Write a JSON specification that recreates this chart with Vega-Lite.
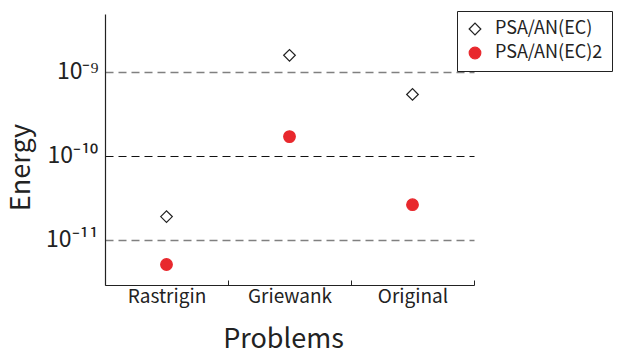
{
  "$schema": "https://vega.github.io/schema/vega-lite/v6.json",
  "autosize": {"type": "none"},
  "width": 369,
  "height": 271,
  "padding": {"left": 105, "top": 14, "right": 150, "bottom": 72},
  "background": "white",
  "config": {
    "view": {"stroke": null},
    "font": "Noto Sans CJK JP",
    "axis": {"labelColor": "#222", "titleColor": "#222", "domainColor": "#222", "tickColor": "#222", "labelFont": "Noto Sans CJK JP", "titleFont": "Noto Sans CJK JP", "titleFontWeight": "normal"},
    "legend": {"labelFont": "Noto Sans CJK JP"}
  },
  "data": {
    "values": [
      {"problem": "Rastrigin", "method": "PSA/AN(EC)", "energy": 1.9e-11},
      {"problem": "Rastrigin", "method": "PSA/AN(EC)2", "energy": 5.1e-12},
      {"problem": "Griewank", "method": "PSA/AN(EC)", "energy": 1.58e-9},
      {"problem": "Griewank", "method": "PSA/AN(EC)2", "energy": 1.7e-10},
      {"problem": "Original", "method": "PSA/AN(EC)", "energy": 5.4e-10},
      {"problem": "Original", "method": "PSA/AN(EC)2", "energy": 2.63e-11}
    ]
  },
  "mark": {"type": "point", "filled": true, "strokeWidth": 1.2, "opacity": 1, "size": 135},
  "encoding": {
    "x": {
      "field": "problem",
      "type": "nominal",
      "sort": ["Rastrigin", "Griewank", "Original"],
      "scale": {"paddingInner": 0, "paddingOuter": 0},
      "axis": {
        "title": "Problems",
        "titleFontSize": 27,
        "titlePadding": 20,
        "titleX": 178,
        "labelAngle": 0,
        "labelFontSize": 19,
        "labelPadding": 7,
        "tickBand": "extent",
        "tickSize": -5,
        "domainWidth": 1.2,
        "grid": false
      }
    },
    "y": {
      "field": "energy",
      "type": "quantitative",
      "scale": {"type": "log", "domain": [2.91e-12, 4.9e-9], "nice": false},
      "axis": {
        "title": "Energy",
        "titleFontSize": 27,
        "titleX": -70,
        "titleY": 153,
        "values": [1e-11, 1e-10, 1e-9],
        "labelExpr": "datum.value < 5e-11 ? '10⁻¹¹' : (datum.value < 5e-10 ? '10⁻¹⁰' : '10⁻⁹')",
        "labelFontSize": 23,
        "labelPadding": 7,
        "ticks": false,
        "domainWidth": 1.2,
        "grid": true,
        "gridDash": [8, 5],
        "gridWidth": {"condition": {"test": "datum.value > 5e-11 && datum.value < 5e-10", "value": 1.1}, "value": 1.6},
        "gridColor": {"condition": {"test": "datum.value > 5e-11 && datum.value < 5e-10", "value": "#111"}, "value": "#808080"}
      }
    },
    "shape": {
      "field": "method",
      "type": "nominal",
      "scale": {"domain": ["PSA/AN(EC)", "PSA/AN(EC)2"], "range": ["diamond", "circle"]},
      "legend": {
        "title": null,
        "orient": "none",
        "legendX": 352,
        "legendY": -3,
        "strokeColor": "#222",
        "padding": 9,
        "labelFontSize": 18,
        "labelColor": "#222",
        "labelOffset": 11,
        "rowPadding": 6,
        "symbolSize": 135,
        "symbolStrokeWidth": 1.2
      }
    },
    "fill": {
      "field": "method",
      "type": "nominal",
      "scale": {"domain": ["PSA/AN(EC)", "PSA/AN(EC)2"], "range": ["white", "#e8282d"]}
    },
    "stroke": {
      "field": "method",
      "type": "nominal",
      "scale": {"domain": ["PSA/AN(EC)", "PSA/AN(EC)2"], "range": ["#222", "#e8282d"]}
    }
  }
}
